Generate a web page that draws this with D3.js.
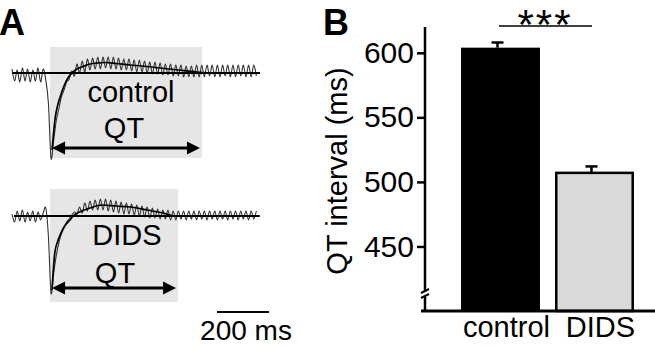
<!DOCTYPE html>
<html>
<head>
<meta charset="utf-8">
<script src="https://cdn.jsdelivr.net/npm/d3@7"></script>
<style>
  html, body { margin: 0; padding: 0; background: #fff; }
  svg { display: block; }
  text { font-family: "Liberation Sans", Arial, Helvetica, sans-serif; fill: #000; }
</style>
</head>
<body>
<svg id="fig" width="655" height="347"></svg>
<script>
// ---------- Panel A: averaged ECG traces (arbitrary units, upward positive) ----------
const sampleMs = 10;            // sampling interval of the raw traces
const rawControl = [
  4,-8,3,-9,5,-8,4,-9,3,-8,5,-9,4,-7,
  -30,-85,-68,-48,-36,-24,-17,-9,-6,
  2,-3,9,0,12,1,14,3,15,4,16,4,16,5,16,4,16,4,15,3,
  14,3,14,2,13,1,13,1,12,0,11,-1,11,-1,10,-2,9,-2,9,-3,
  8,-3,8,-4,7,-4,
  7,-4,8,-4,8,-4,8,-3,8,-4,8,-4,8,-3,8,-4,8,-4,8,-3,8,-4,8,-4,8,-3
];
const rawDIDS = [
  2,-6,5,-5,6,-6,4,-5,5,-6,4,-4,3,8,
  -20,-77,-58,-40,-27,-18,-12,-6,-3,
  1,4,2,9,3,13,5,15,6,16,6,17,6,17,5,16,4,15,3,14,
  2,13,2,12,1,11,0,10,-1,9,-2,8,-2,7,-3,6,-3,6,-4,5,
  -4,5,-3,5,-4,5,
  -3,5,-4,5,-3,5,-4,5,-3,5,-4,5,-3,5,-4,5,-3,5,-4,5,-3,5,-4,5,-3,5
];
// fitted T-wave curves: time (ms) and amplitude
const fitTimeControl = [154,160,165,175,185,200,215,231,250,269,300,331,360,400,454,500,569,640,712,762,850,954];
const fitControl     = [-77,-60,-47,-33,-24,-13,-5,0,4,6,9,10,10.5,9.5,8,7,5,3,1,0,0,0];
const fitTimeDIDS    = [154,160,165,175,185,200,223,235,260,300,346,400,454,520,581,627,700,954];
const fitDIDS        = [-74,-50,-36,-26,-19,-11,-4,0,4,8,11,10,9,6,3,0,0,0];
// QT interval marks on the traces (ms)
const qtStart = [154, 154];
const qtEnd   = [723, 631];
const traceLabels = ["control", "DIDS"];
const scaleBarMs = 200;

// ---------- Panel B: mean QT interval ----------
const groups = ["control", "DIDS"];
const qtMean = [604, 507];
const qtSem  = [4, 5];
const yTicks = [450, 500, 550, 600];
const barFills = ["#000000", "#d9d9d9"];

const svg = d3.select("#fig");

// ---------- Panel A drawing ----------
const tx = d3.scaleLinear().domain([0, 954]).range([12, 260]);
const traceRows = [
  { raw: rawControl, ft: fitTimeControl, fv: fitControl, base: 73, lineX: [12, 260],
    boxY: [47, 158], arrowY: 148, label: { x: 131, y: 102 }, qt: { x: 124, y: 138 } },
  { raw: rawDIDS, ft: fitTimeDIDS, fv: fitDIDS, base: 216, lineX: [14, 259],
    boxY: [189, 302], arrowY: 288, label: { x: 127, y: 245 }, qt: { x: 115, y: 283 } }
];

traceRows.forEach((row, i) => {
  const vy = d3.scaleLinear().domain([-100, 20]).range([row.base + 100, row.base - 20]);
  const g = svg.append("g");

  // shaded QT window
  g.append("rect")
    .attr("x", tx(qtStart[i]) - 2)
    .attr("y", row.boxY[0])
    .attr("width", tx(qtEnd[i]) - tx(qtStart[i]) + 4)
    .attr("height", row.boxY[1] - row.boxY[0])
    .attr("fill", "#e6e6e6");

  g.append("text").attr("x", row.label.x).attr("y", row.label.y)
    .attr("text-anchor", "middle").attr("font-size", 29).text(traceLabels[i]);
  g.append("text").attr("x", row.qt.x).attr("y", row.qt.y)
    .attr("text-anchor", "middle").attr("font-size", 29).text("QT");

  // raw trace
  const rawLine = d3.line()
    .x((d, k) => tx(k * sampleMs))
    .y(d => vy(d))
    .curve(d3.curveCardinal.tension(0.1));
  g.append("path").datum(row.raw).attr("d", rawLine)
    .attr("fill", "none").attr("stroke", "#333").attr("stroke-width", 1.1);

  // isoelectric line
  g.append("line")
    .attr("x1", row.lineX[0]).attr("x2", row.lineX[1])
    .attr("y1", vy(0)).attr("y2", vy(0))
    .attr("stroke", "#000").attr("stroke-width", 1.8);

  // fitted curve
  const fitLine = d3.line()
    .x(d => tx(d[0])).y(d => vy(d[1]))
    .curve(d3.curveMonotoneX);
  g.append("path").datum(d3.zip(row.ft, row.fv)).attr("d", fitLine)
    .attr("fill", "none").attr("stroke", "#000").attr("stroke-width", 1.7);

  // double-headed QT arrow
  const x0 = tx(qtStart[i]), x1 = tx(qtEnd[i]), ay = row.arrowY;
  const headL = 13, headH = 6.5;
  g.append("line").attr("x1", x0 + 4).attr("x2", x1 - 4)
    .attr("y1", ay).attr("y2", ay).attr("stroke", "#000").attr("stroke-width", 3);
  g.append("path")
    .attr("d", `M${x0},${ay}L${x0 + headL},${ay - headH}L${x0 + headL},${ay + headH}Z`)
    .attr("fill", "#000");
  g.append("path")
    .attr("d", `M${x1},${ay}L${x1 - headL},${ay - headH}L${x1 - headL},${ay + headH}Z`)
    .attr("fill", "#000");
});

// time scale bar
svg.append("line")
  .attr("x1", 217).attr("x2", 217 + tx(scaleBarMs) - tx(0))
  .attr("y1", 312).attr("y2", 312)
  .attr("stroke", "#000").attr("stroke-width", 2);
svg.append("text").attr("x", 246).attr("y", 340).attr("text-anchor", "middle")
  .attr("font-size", 28).text(scaleBarMs + " ms");

// panel letters
svg.append("text").attr("x", -1).attr("y", 35).attr("font-size", 36)
  .attr("font-weight", "bold").text("A");
svg.append("text").attr("x", 323).attr("y", 35).attr("font-size", 36)
  .attr("font-weight", "bold").text("B");

// ---------- Panel B drawing ----------
const y = d3.scaleLinear().domain([400, 620]).range([311, 27]);
const x = d3.scaleBand().domain(groups).range([446, 649]).paddingInner(0.16).paddingOuter(0.16);
const axisX = 425;

const yAxis = d3.axisLeft(y).tickValues(yTicks).tickSize(8).tickPadding(3);
const ya = svg.append("g").attr("transform", `translate(${axisX},0)`).call(yAxis);
ya.select(".domain").remove();
ya.selectAll(".tick line").attr("stroke", "#000").attr("stroke-width", 2.5);
ya.selectAll(".tick text").attr("font-size", 30)
  .attr("font-family", "Liberation Sans, Arial, sans-serif").attr("fill", "#000");

// y axis line with a break near the bottom
svg.append("line").attr("x1", axisX).attr("x2", axisX)
  .attr("y1", y(620)).attr("y2", 290).attr("stroke", "#000").attr("stroke-width", 2.5);
svg.append("line").attr("x1", axisX).attr("x2", axisX)
  .attr("y1", 297).attr("y2", y(400)).attr("stroke", "#000").attr("stroke-width", 2.5);
[291, 296].forEach(by => {
  svg.append("line").attr("x1", axisX - 4).attr("x2", axisX + 4)
    .attr("y1", by + 2).attr("y2", by - 2).attr("stroke", "#000").attr("stroke-width", 2);
});

// bars
svg.selectAll(".bar").data(groups).enter().append("rect")
  .attr("x", (d, i) => x(d) + (i === 1 ? 1.25 : 0))
  .attr("y", (d, i) => y(qtMean[i]))
  .attr("width", (d, i) => x.bandwidth() - (i === 1 ? 2.5 : 0))
  .attr("height", (d, i) => y(400) - y(qtMean[i]))
  .attr("fill", (d, i) => barFills[i])
  .attr("stroke", (d, i) => i === 1 ? "#000" : "none")
  .attr("stroke-width", 2.5);

// error bars (SEM, upward)
groups.forEach((gname, i) => {
  const cx = x(gname) + x.bandwidth() / 2 - 3;
  svg.append("line").attr("x1", cx).attr("x2", cx)
    .attr("y1", y(qtMean[i])).attr("y2", y(qtMean[i] + qtSem[i]))
    .attr("stroke", "#000").attr("stroke-width", 2.5);
  svg.append("line").attr("x1", cx - 6).attr("x2", cx + 6)
    .attr("y1", y(qtMean[i] + qtSem[i])).attr("y2", y(qtMean[i] + qtSem[i]))
    .attr("stroke", "#000").attr("stroke-width", 2.5);
});

// x axis line
svg.append("line").attr("x1", 421).attr("x2", 655)
  .attr("y1", y(400)).attr("y2", y(400)).attr("stroke", "#000").attr("stroke-width", 3);

// category labels
svg.selectAll(".cat").data(groups).enter().append("text")
  .attr("x", d => x(d) + x.bandwidth() / 2 + 6)
  .attr("y", 337).attr("text-anchor", "middle").attr("font-size", 29)
  .text(d => d);

// significance bracket
svg.append("line").attr("x1", 499).attr("x2", 592).attr("y1", 26).attr("y2", 26)
  .attr("stroke", "#000").attr("stroke-width", 1.5);
svg.append("text").attr("x", 545).attr("y", 39).attr("text-anchor", "middle")
  .attr("font-size", 42).attr("letter-spacing", 2).text("***");

// y axis title
svg.append("text")
  .attr("transform", `translate(347,${(y(620) + y(400)) / 2 + 2}) rotate(-90)`)
  .attr("text-anchor", "middle").attr("font-size", 29).text("QT interval (ms)");
</script>
</body>
</html>
